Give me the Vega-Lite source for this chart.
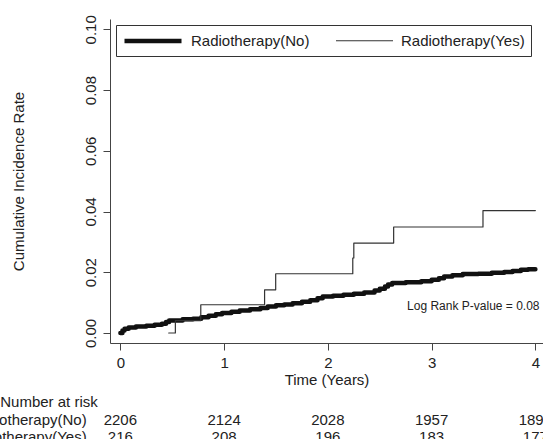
{
  "$schema": "https://vega.github.io/schema/vega-lite/v6.json",
  "width": 433,
  "height": 324,
  "autosize": {"type": "none"},
  "padding": {"left": 110, "top": 19, "right": 0, "bottom": 96},
  "config": {
    "view": {"stroke": null},
    "font": "Liberation Sans",
    "text": {"font": "Liberation Sans"},
    "axis": {
      "grid": false,
      "domainColor": "#444444",
      "tickColor": "#444444",
      "tickSize": 7,
      "labelFontSize": 15,
      "titleFontSize": 15,
      "titleFontWeight": "normal",
      "labelColor": "#222222",
      "titleColor": "#222222",
      "labelFont": "Liberation Sans",
      "titleFont": "Liberation Sans",
      "labelFlush": false,
      "labelOverlap": false
    },
    "legend": {
      "title": null, "orient": "none", "legendX": 6, "legendY": 6, "direction": "horizontal",
      "strokeColor": "#333333", "fillColor": "white", "padding": 6,
      "symbolType": "M-1,0H6.6", "symbolSize": 225, "labelFontSize": 15, "labelColor": "#222222",
      "labelFont": "Liberation Sans", "labelOffset": 49, "columnPadding": 23
    }
  },
  "datasets": {
    "curves": [
      {"group": "Radiotherapy(No)", "time": 0, "cif": 0},
      {"group": "Radiotherapy(No)", "time": 0.02, "cif": 0.0008},
      {"group": "Radiotherapy(No)", "time": 0.04, "cif": 0.0014},
      {"group": "Radiotherapy(No)", "time": 0.08, "cif": 0.0018},
      {"group": "Radiotherapy(No)", "time": 0.15, "cif": 0.0021},
      {"group": "Radiotherapy(No)", "time": 0.25, "cif": 0.0024},
      {"group": "Radiotherapy(No)", "time": 0.33, "cif": 0.0027},
      {"group": "Radiotherapy(No)", "time": 0.4, "cif": 0.003},
      {"group": "Radiotherapy(No)", "time": 0.44, "cif": 0.0036},
      {"group": "Radiotherapy(No)", "time": 0.47, "cif": 0.0041},
      {"group": "Radiotherapy(No)", "time": 0.6, "cif": 0.0045},
      {"group": "Radiotherapy(No)", "time": 0.7, "cif": 0.0047},
      {"group": "Radiotherapy(No)", "time": 0.78, "cif": 0.0052},
      {"group": "Radiotherapy(No)", "time": 0.85, "cif": 0.0057},
      {"group": "Radiotherapy(No)", "time": 0.92, "cif": 0.0062},
      {"group": "Radiotherapy(No)", "time": 0.98, "cif": 0.0066},
      {"group": "Radiotherapy(No)", "time": 1.07, "cif": 0.007},
      {"group": "Radiotherapy(No)", "time": 1.15, "cif": 0.0074},
      {"group": "Radiotherapy(No)", "time": 1.25, "cif": 0.0078},
      {"group": "Radiotherapy(No)", "time": 1.35, "cif": 0.0082},
      {"group": "Radiotherapy(No)", "time": 1.42, "cif": 0.0087},
      {"group": "Radiotherapy(No)", "time": 1.5, "cif": 0.0091},
      {"group": "Radiotherapy(No)", "time": 1.58, "cif": 0.0094},
      {"group": "Radiotherapy(No)", "time": 1.66, "cif": 0.0098},
      {"group": "Radiotherapy(No)", "time": 1.75, "cif": 0.0103},
      {"group": "Radiotherapy(No)", "time": 1.83, "cif": 0.0108},
      {"group": "Radiotherapy(No)", "time": 1.9, "cif": 0.0114},
      {"group": "Radiotherapy(No)", "time": 1.95, "cif": 0.012},
      {"group": "Radiotherapy(No)", "time": 2.05, "cif": 0.0123},
      {"group": "Radiotherapy(No)", "time": 2.15, "cif": 0.0126},
      {"group": "Radiotherapy(No)", "time": 2.25, "cif": 0.0129},
      {"group": "Radiotherapy(No)", "time": 2.35, "cif": 0.0133},
      {"group": "Radiotherapy(No)", "time": 2.45, "cif": 0.014},
      {"group": "Radiotherapy(No)", "time": 2.5, "cif": 0.0146},
      {"group": "Radiotherapy(No)", "time": 2.55, "cif": 0.0153},
      {"group": "Radiotherapy(No)", "time": 2.58, "cif": 0.016},
      {"group": "Radiotherapy(No)", "time": 2.62, "cif": 0.0165},
      {"group": "Radiotherapy(No)", "time": 2.75, "cif": 0.0167},
      {"group": "Radiotherapy(No)", "time": 2.9, "cif": 0.017},
      {"group": "Radiotherapy(No)", "time": 3.0, "cif": 0.0175},
      {"group": "Radiotherapy(No)", "time": 3.07, "cif": 0.018},
      {"group": "Radiotherapy(No)", "time": 3.12, "cif": 0.0186},
      {"group": "Radiotherapy(No)", "time": 3.2, "cif": 0.019},
      {"group": "Radiotherapy(No)", "time": 3.3, "cif": 0.0194},
      {"group": "Radiotherapy(No)", "time": 3.45, "cif": 0.0195},
      {"group": "Radiotherapy(No)", "time": 3.58, "cif": 0.0198},
      {"group": "Radiotherapy(No)", "time": 3.7, "cif": 0.0201},
      {"group": "Radiotherapy(No)", "time": 3.78, "cif": 0.0204},
      {"group": "Radiotherapy(No)", "time": 3.86, "cif": 0.0208},
      {"group": "Radiotherapy(No)", "time": 3.93, "cif": 0.021},
      {"group": "Radiotherapy(No)", "time": 4.0, "cif": 0.021},
      {"group": "Radiotherapy(Yes)", "time": 0.466, "cif": 0},
      {"group": "Radiotherapy(Yes)", "time": 0.53, "cif": 0.0041},
      {"group": "Radiotherapy(Yes)", "time": 0.775, "cif": 0.0093},
      {"group": "Radiotherapy(Yes)", "time": 1.39, "cif": 0.0142},
      {"group": "Radiotherapy(Yes)", "time": 1.497, "cif": 0.0195},
      {"group": "Radiotherapy(Yes)", "time": 2.24, "cif": 0.0247},
      {"group": "Radiotherapy(Yes)", "time": 2.25, "cif": 0.0296},
      {"group": "Radiotherapy(Yes)", "time": 2.634, "cif": 0.0349},
      {"group": "Radiotherapy(Yes)", "time": 3.495, "cif": 0.0403},
      {"group": "Radiotherapy(Yes)", "time": 4.0, "cif": 0.0403}
    ],
    "risk": [
      {"group": "Radiotherapy(No)", "time": 0, "n": 2206},
      {"group": "Radiotherapy(No)", "time": 1, "n": 2124},
      {"group": "Radiotherapy(No)", "time": 2, "n": 2028},
      {"group": "Radiotherapy(No)", "time": 3, "n": 1957},
      {"group": "Radiotherapy(No)", "time": 4, "n": 1895},
      {"group": "Radiotherapy(Yes)", "time": 0, "n": 216},
      {"group": "Radiotherapy(Yes)", "time": 1, "n": 208},
      {"group": "Radiotherapy(Yes)", "time": 2, "n": 196},
      {"group": "Radiotherapy(Yes)", "time": 3, "n": 183},
      {"group": "Radiotherapy(Yes)", "time": 4, "n": 177}
    ]
  },
  "layer": [
    {
      "data": {"name": "curves"},
      "mark": {"type": "line", "interpolate": "step-after", "strokeCap": "round", "strokeJoin": "round"},
      "encoding": {
        "x": {
          "field": "time", "type": "quantitative",
          "scale": {"domain": [-0.1, 4.0735], "nice": false, "zero": false},
          "axis": {"values": [0, 1, 2, 3, 4], "format": "d", "title": "Time (Years)", "labelPadding": 5, "titlePadding": 2}
        },
        "y": {
          "field": "cif", "type": "quantitative",
          "scale": {"domain": [-0.0033, 0.1034], "nice": false, "zero": false},
          "axis": {"values": [0, 0.02, 0.04, 0.06, 0.08, 0.1], "format": ".2f", "title": "Cumulative Incidence Rate",
                   "labelAngle": -90, "labelAlign": "center", "labelBaseline": "bottom", "labelPadding": 5, "titlePadding": 57}
        },
        "color": {
          "field": "group", "type": "nominal",
          "scale": {"range": ["#111111", "#333333"]}
        },
        "strokeWidth": {
          "field": "group", "type": "nominal",
          "scale": {"range": [4.5, 1.2]}
        }
      }
    },
    {
      "data": {"name": "risk"},
      "transform": [{"filter": "datum.group === 'Radiotherapy(No)'"}],
      "mark": {"type": "text", "fontSize": 15, "color": "#222222", "align": "center", "baseline": "middle"},
      "encoding": {
        "x": {"field": "time", "type": "quantitative"},
        "y": {"datum": -0.0285},
        "text": {"field": "n", "type": "quantitative"}
      }
    },
    {
      "data": {"name": "risk"},
      "transform": [{"filter": "datum.group === 'Radiotherapy(Yes)'"}],
      "mark": {"type": "text", "fontSize": 15, "color": "#222222", "align": "center", "baseline": "middle"},
      "encoding": {
        "x": {"field": "time", "type": "quantitative"},
        "y": {"datum": -0.0344},
        "text": {"field": "n", "type": "quantitative"}
      }
    },
    {
      "data": {"values": [{"label": "Radiotherapy(No)"}]},
      "mark": {"type": "text", "fontSize": 15, "color": "#222222", "align": "right", "baseline": "middle"},
      "encoding": {
        "x": {"datum": -0.325},
        "y": {"datum": -0.0285},
        "text": {"field": "label"}
      }
    },
    {
      "data": {"values": [{"label": "Radiotherapy(Yes)"}]},
      "mark": {"type": "text", "fontSize": 15, "color": "#222222", "align": "right", "baseline": "middle"},
      "encoding": {
        "x": {"datum": -0.325},
        "y": {"datum": -0.0344},
        "text": {"field": "label"}
      }
    },
    {
      "data": {"values": [{"label": "Number at risk"}]},
      "mark": {"type": "text", "fontSize": 15, "color": "#222222", "align": "left", "baseline": "middle"},
      "encoding": {
        "x": {"datum": -1.158},
        "y": {"datum": -0.0226},
        "text": {"field": "label"}
      }
    },
    {
      "data": {"values": [{"label": "Log Rank P-value = 0.08"}]},
      "mark": {"type": "text", "fontSize": 12, "color": "#222222", "align": "right", "baseline": "middle"},
      "encoding": {
        "x": {"datum": 4.04},
        "y": {"datum": 0.009},
        "text": {"field": "label"}
      }
    }
  ]
}
